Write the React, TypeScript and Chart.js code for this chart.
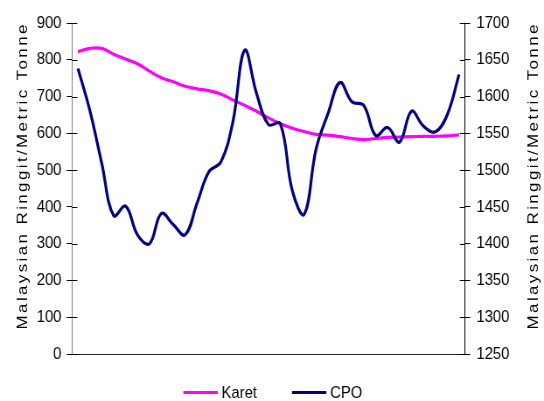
import React, { useEffect, useRef } from "react";
import { Chart, registerables } from "chart.js";

Chart.register(...registerables);

// Weekly observations (no date labels on the axis)
const periods = [
  "1", "2", "3", "4", "5", "6", "7", "8", "9", "10", "11",
  "12", "13", "14", "15", "16", "17", "18", "19", "20", "21", "22",
  "23", "24", "25", "26", "27", "28", "29", "30", "31", "32", "33",
];

// Rubber price, left axis
const karet = [
  822, 831, 831, 815, 802, 789, 769, 751, 740, 728, 721,
  716, 707, 691, 676, 660, 642, 626, 614, 605, 597, 595,
  591, 586, 583, 586, 589, 590, 591, 592, 592, 593, 596,
];

// Crude palm oil price, right axis
const cpo = [
  1638, 1581, 1509, 1438, 1451, 1412, 1400, 1441, 1426, 1412, 1455,
  1498, 1511, 1565, 1663, 1604, 1562, 1563, 1472, 1440, 1529, 1577,
  1619, 1593, 1588, 1547, 1558, 1538, 1580, 1560, 1552, 1575, 1630,
];

const leftRange = [0, 900];
const leftStep = 100;
const rightRange = [1250, 1700];
const rightStep = 50;

const seriesNames = ["Karet", "CPO"];
const seriesColors = ["#FF00FF", "#000080"];
const axisTitle = "Malaysian Ringgit/Metric Tonne";

// The canvas is drawn wider than it is shown, which gives the narrow lettering
const VIEW_W = 544;
const VIEW_H = 401;
const SQUEEZE = 0.875;
const DRAW_W = Math.round(VIEW_W / SQUEEZE);

const FONT = '17px "Liberation Sans", Arial, sans-serif';

const extras = {
  id: "extras",
  afterDraw(chart: any) {
    const ctx = chart.ctx as CanvasRenderingContext2D;
    const area = chart.chartArea;

    // tick marks that cross into the plot area
    ctx.save();
    ctx.strokeStyle = "#000";
    ctx.lineWidth = 1;
    (["y", "y1"] as const).forEach((id) => {
      const s = chart.scales[id];
      const x0 = id === "y" ? area.left : area.right;
      const dir = id === "y" ? 1 : -1;
      s.ticks.forEach((_: any, i: number) => {
        const py = Math.round(s.getPixelForTick(i)) + 0.5;
        ctx.beginPath();
        ctx.moveTo(x0, py);
        ctx.lineTo(x0 + dir * 6, py);
        ctx.stroke();
      });
    });
    ctx.restore();

    // rotated axis titles on both sides
    const drawTitle = (x: number, y: number) => {
      ctx.save();
      ctx.font = FONT;
      ctx.fillStyle = "#000";
      (ctx as any).letterSpacing = "0px";
      const w = ctx.measureText(axisTitle).width;
      const sp = Math.max(0, (305 - w) / (axisTitle.length - 1));
      (ctx as any).letterSpacing = sp.toFixed(2) + "px";
      ctx.translate(x, y);
      ctx.rotate(-Math.PI / 2);
      ctx.textAlign = "center";
      ctx.textBaseline = "alphabetic";
      ctx.fillText(axisTitle, sp / 2, 0);
      ctx.restore();
    };
    drawTitle(30.5, 177);
    drawTitle(615, 177);

    // key below the plot
    ctx.save();
    ctx.font = FONT;
    ctx.textBaseline = "alphabetic";
    ctx.textAlign = "left";
    let x = 209.6;
    chart.data.datasets.forEach((ds: any) => {
      ctx.strokeStyle = ds.borderColor;
      ctx.lineWidth = 3;
      ctx.beginPath();
      ctx.moveTo(x, 392.5);
      ctx.lineTo(x + 39.3, 392.5);
      ctx.stroke();
      x += 39.3 + 4.3;
      ctx.fillStyle = "#000";
      ctx.fillText(ds.label, x, 397.5);
      x += ctx.measureText(ds.label).width + 40;
    });
    ctx.restore();
  },
};

const plainNumber = (v: any) => String(v);

export default function App() {
  const ref = useRef<HTMLCanvasElement | null>(null);

  useEffect(() => {
    if (!ref.current) return;
    const tickFont = { family: '"Liberation Sans", Arial, sans-serif', size: 17 };
    const chart = new Chart(ref.current, {
      type: "line",
      data: {
        labels: periods,
        datasets: [
          {
            label: seriesNames[0],
            data: karet,
            borderColor: seriesColors[0],
            backgroundColor: seriesColors[0],
            borderWidth: 3.2,
            pointRadius: 0,
            tension: 0.4,
            yAxisID: "y",
            order: 1,
          },
          {
            label: seriesNames[1],
            data: cpo,
            borderColor: seriesColors[1],
            backgroundColor: seriesColors[1],
            borderWidth: 3.2,
            pointRadius: 0,
            tension: 0.4,
            yAxisID: "y1",
            order: 0,
          },
        ],
      },
      options: {
        responsive: false,
        maintainAspectRatio: false,
        animation: false,
        devicePixelRatio: 1,
        layout: { padding: { top: 23, bottom: 47, left: 0, right: 0 } },
        plugins: {
          legend: { display: false },
          tooltip: { enabled: false },
        },
        scales: {
          x: {
            type: "category",
            offset: true,
            grid: { display: false },
            ticks: { display: false },
            border: { display: true, color: "#222", width: 1 },
            afterFit: (s: any) => {
              s.height = 0;
            },
          },
          y: {
            position: "left",
            min: leftRange[0],
            max: leftRange[1],
            ticks: { stepSize: leftStep, color: "#000", font: tickFont, padding: 6, callback: plainNumber },
            grid: { display: true, drawOnChartArea: false, drawTicks: true, tickLength: 6, color: "#000" },
            border: { display: true, color: "#808080", width: 1 },
            afterFit: (s: any) => {
              s.width = 82.3;
            },
          },
          y1: {
            position: "right",
            min: rightRange[0],
            max: rightRange[1],
            ticks: { stepSize: rightStep, color: "#000", font: tickFont, padding: 7, callback: plainNumber },
            grid: { display: true, drawOnChartArea: false, drawTicks: true, tickLength: 6, color: "#000" },
            border: { display: true, color: "#000", width: 1 },
            afterFit: (s: any) => {
              s.width = DRAW_W - 531.7;
            },
          },
        },
      },
      plugins: [extras],
    });
    return () => chart.destroy();
  }, []);

  return (
    <div style={{ position: "fixed", left: 0, top: 0, width: VIEW_W, height: VIEW_H, background: "#fff" }}>
      <canvas
        ref={ref}
        width={DRAW_W}
        height={VIEW_H}
        style={{ width: VIEW_W + "px", height: VIEW_H + "px", display: "block" }}
      />
    </div>
  );
}
